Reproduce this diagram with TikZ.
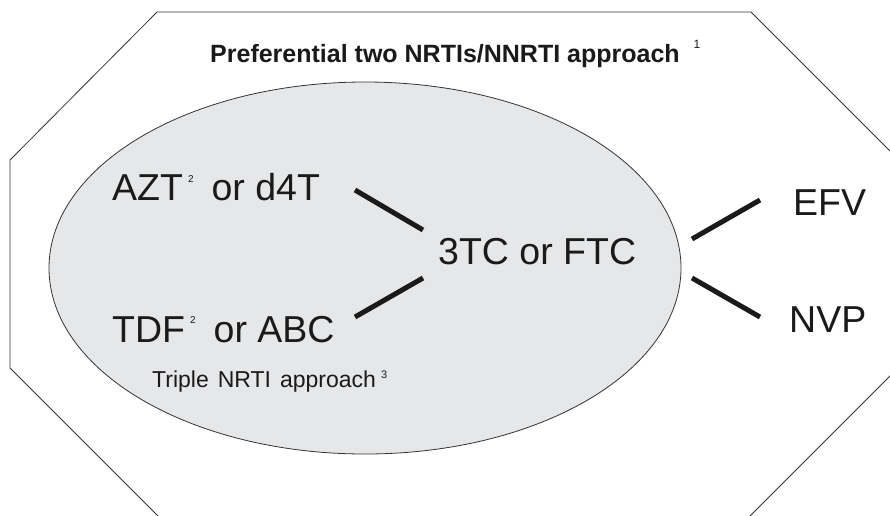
\documentclass[tikz,border=0pt]{standalone}
\usepackage{fontspec}
\setmainfont{Liberation Sans}
\definecolor{inkc}{HTML}{1A1A1A}
\definecolor{framec}{HTML}{333333}
\definecolor{ellfill}{HTML}{E6E7E9}
\newcommand{\supr}[3]{\raisebox{#2pt}{\fontsize{#1}{#1}\selectfont #3}}
\begin{document}
\begin{tikzpicture}[x=1pt,y=-1pt,
  lbl/.style={anchor=base west,inner sep=0pt,text=inkc},
  big/.style={lbl,font=\fontsize{37.5}{40}\selectfont},
  bar/.style={line width=5pt,draw=inkc,line cap=butt},
  frame/.style={draw=framec,line width=0.8pt}]
\useasboundingbox (0,0) rectangle (890,515);
\fill[white] (0,0) rectangle (890,515);
\begin{scope}
\clip (0,0) rectangle (890,515);
\draw[frame] (157,12) -- (751,12) -- (898,159) -- (898,368) -- (745,521) -- (163,521) -- (10,368) -- (10,160) -- cycle;
\end{scope}
\draw[frame,fill=ellfill] (365,268) ellipse [x radius=316pt, y radius=186pt];
\node[lbl,font=\bfseries\fontsize{25}{28}\selectfont] (title) at (210,62) {Preferential two NRTIs/NNRTI approach\hspace{14pt}\supr{12}{14}{\mdseries 1}};
\node[big] (azt) at (112,200) {AZT\hspace{5pt}\supr{10}{18}{2}\hspace{18pt}or d4T};
\node[big] (tdf) at (112,342) {TDF\hspace{5pt}\supr{10}{19}{2}\hspace{18pt}or ABC};
\node[lbl,font=\fontsize{23}{26}\selectfont] (triple) at (152,387) {Triple\hspace{9pt}NRTI\hspace{9pt}approach\hspace{5pt}\supr{11}{9}{3}};
\node[big] (ftc) at (438,264) {3TC or FTC};
\node[big] (efv) at (793,215) {EFV};
\node[big] (nvp) at (789,332) {NVP};
\coordinate (a1) at (355,190); \coordinate (a2) at (423,230);
\coordinate (b1) at (355,317); \coordinate (b2) at (423,278);
\coordinate (e1) at (692,239); \coordinate (e2) at (760,200);
\coordinate (n1) at (692,278); \coordinate (n2) at (760,317);
\draw[bar] (a1) -- (a2);
\draw[bar] (b1) -- (b2);
\draw[bar] (e1) -- (e2);
\draw[bar] (n1) -- (n2);
\end{tikzpicture}
\end{document}
